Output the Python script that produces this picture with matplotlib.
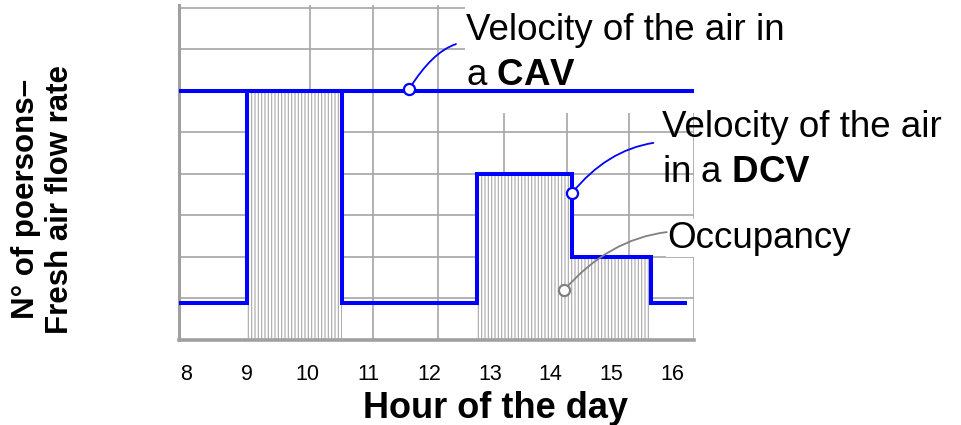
import matplotlib
matplotlib.use("Agg")
import matplotlib.pyplot as plt
from matplotlib.patches import Rectangle

plt.rcParams['font.family'] = ['Liberation Sans', 'DejaVu Sans']
plt.rcParams['mathtext.fontset'] = 'custom'
plt.rcParams['mathtext.rm'] = 'Liberation Sans'
plt.rcParams['mathtext.bf'] = 'Liberation Sans:bold'
plt.rcParams['hatch.linewidth'] = 0.8

# data (x = hour of the day, y = grid units)
hours = [7.88, 9.0, 10.57, 12.79, 14.35, 15.65, 16.24]
occupancy = [0, 6, 0, 4, 2, 0, 0]
dcv_flow = [0.9, 6, 0.9, 4, 2, 0.9, 0.9]
cav_hours = [7.88, 16.36]
cav_flow = [6, 6]
hour_ticks = [8, 9, 10, 11, 12, 13, 14, 15, 16]

# hand drawn grid does not sit exactly on the hour labels
grid_x = [7.88, 9.0, 10.04, 11.07, 12.15, 13.23, 14.27, 15.29, 16.36]

BLUE = '#0000ff'
GRID = '#a6a6a6'

fig = plt.figure(figsize=(9.61, 4.25), dpi=100)
ax = fig.add_axes([0.1863, 0.2, 0.5359, 0.789])
ax.set_xlim(7.88, 16.36)
ax.set_ylim(0, 8.08)

ax.set_xticks(hour_ticks)
ax.set_xticks(grid_x, minor=True)
ax.set_yticks(range(0, 9))
ax.tick_params(axis='x', which='both', length=0, pad=17, labelsize=15.5)
ax.tick_params(axis='y', length=0, labelleft=False)
ax.grid(False)
ax.grid(True, axis='x', which='minor', color=GRID, lw=1.2, zorder=0.5)
ax.grid(True, axis='y', which='major', color=GRID, lw=1.2, zorder=0.5)
ax.set_axisbelow(True)

for s in ['top', 'right']:
    ax.spines[s].set_visible(False)
ax.spines['left'].set_color('#a0a0a0')
ax.spines['left'].set_linewidth(2.2)
ax.spines['bottom'].set_color('#a0a0a0')
ax.spines['bottom'].set_linewidth(2.6)

# white area behind the CAV label hides the grid
ax.add_patch(Rectangle((12.59, 5.47), 4.0, 3.0, facecolor='white',
                       edgecolor='none', zorder=0.8))

# occupancy, hatched
ax.fill_between(hours, occupancy, step='post', facecolor='white',
                edgecolor='#a8a8a8', hatch='|||||', linewidth=0, zorder=1)

# air flow rates
ax.plot(cav_hours, cav_flow, color=BLUE, lw=2.9, zorder=3,
        solid_capstyle='butt')
ax.step(hours, dcv_flow, where='post', color=BLUE, lw=2.9, zorder=3,
        solid_joinstyle='miter', solid_capstyle='butt')

# callouts
fs = 26.5
ax.annotate('', xy=(11.67, 6.05), xytext=(12.44, 7.13),
            arrowprops=dict(arrowstyle='-', color=BLUE, lw=1.3,
                            shrinkA=0, shrinkB=0,
                            connectionstyle='angle3,angleA=18,angleB=58'),
            annotation_clip=False, zorder=4)
ax.plot([11.67], [6.05], 'o', ms=8, mfc='white', mec=BLUE, mew=1.6, zorder=5)
ax.text(12.61, 7.23, 'Velocity of the air in', fontsize=fs, va='baseline')
ax.text(12.61, 6.14, r'a $\mathbf{CAV}$', fontsize=fs, va='baseline')

ax.annotate('', xy=(14.35, 3.54), xytext=(15.69, 4.75),
            arrowprops=dict(arrowstyle='-', color=BLUE, lw=1.3,
                            shrinkA=0, shrinkB=0,
                            connectionstyle='angle3,angleA=9,angleB=51'),
            annotation_clip=False, zorder=4)
ax.plot([14.35], [3.54], 'o', ms=8, mfc='white', mec=BLUE, mew=1.6, zorder=5)
ax.text(15.83, 4.89, 'Velocity of the air', fontsize=fs, va='baseline')
ax.text(15.83, 3.81, r'in a $\mathbf{DCV}$', fontsize=fs, va='baseline')

ax.annotate('', xy=(14.22, 1.2), xytext=(15.91, 2.6),
            arrowprops=dict(arrowstyle='-', color='#808080', lw=1.3,
                            shrinkA=0, shrinkB=0,
                            connectionstyle='angle3,angleA=7,angleB=49'),
            annotation_clip=False, zorder=4)
ax.plot([14.22], [1.2], 'o', ms=8, mfc='white', mec='#808080', mew=1.6, zorder=5)
ax.text(15.92, 2.22, 'Occupancy', fontsize=fs, va='baseline',
        bbox=dict(facecolor='white', edgecolor='none', pad=1))

fig.text(495 / 961, 1 - 418 / 425, 'Hour of the day', fontsize=26,
         fontweight='bold', ha='center', va='baseline')
fig.text(43 / 961, 1 - 199 / 425, 'N° of poersons–\nFresh air flow rate',
         fontsize=22.5, fontweight='bold', rotation=90, ha='center',
         va='center', multialignment='center')

fig.savefig('out.png', dpi=100)
